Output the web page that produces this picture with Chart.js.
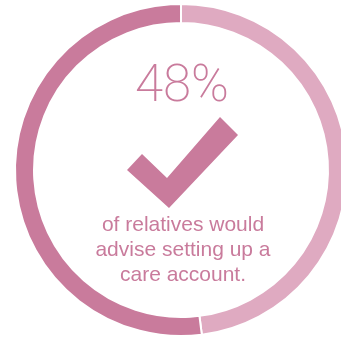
<!DOCTYPE html>
<html>
<head>
<meta charset="utf-8">
<script src="https://cdn.jsdelivr.net/npm/chart.js@4/dist/chart.umd.min.js"></script>
<style>
  html, body { margin: 0; padding: 0; background: #fff; overflow: hidden; }
  #wrap { position: relative; width: 341px; height: 342px; overflow: hidden; }
  #chart-box { position: absolute; left: 0; top: 0; width: 362px; height: 340px; }
  .pct { position: absolute; left: 0; width: 364px; top: 54px; text-align: center;
         font-family: "Roboto", "Lato", sans-serif; font-weight: 200; font-size: 51px; color: #c97b9c; }
  .nota { position: absolute; left: 0; width: 366px; top: 211px; text-align: center;
          font-family: "Liberation Sans", Arial, sans-serif; font-size: 21px; line-height: 25px; color: #c97b9c; }
  svg { position: absolute; left: 0; top: 0; }
</style>
</head>
<body>
<div id="wrap">
  <div id="chart-box"><canvas id="grafico-anillo"></canvas></div>
  <div class="pct" id="pct-texto"></div>
  <svg width="341" height="342">
    <polygon points="127,170 142,154 167,178 220,117 238,135 169,208" fill="#c97b9c" />
  </svg>
  <div class="nota">of relatives would<br>advise setting up a<br>care account.</div>
</div>
<script>
const etiquetas = ["Would advise", "Other"];
const valores = [48, 52];
const colores = ["#dfaac1", "#c97b9c"];

document.getElementById("pct-texto").innerText = `${valores[0]}%`;

const ctx = document.getElementById("grafico-anillo");
new Chart(ctx, {
  type: "doughnut",
  data: {
    labels: etiquetas,
    datasets: [{
      data: valores,
      backgroundColor: colores,
      borderColor: "#ffffff",
      borderWidth: 2
    }]
  },
  options: {
    responsive: true,
    maintainAspectRatio: false,
    animation: false,
    cutout: 147,
    layout: { padding: 3 },
    plugins: { legend: { display: false }, tooltip: { enabled: false } }
  }
});
</script>
</body>
</html>
